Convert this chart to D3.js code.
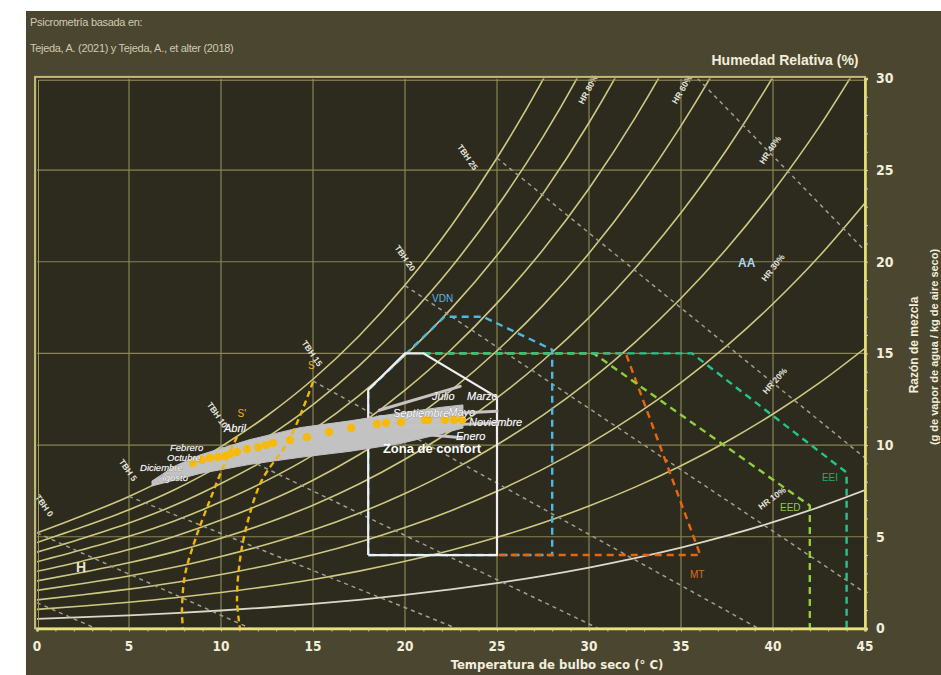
<!DOCTYPE html>
<html><head><meta charset="utf-8">
<script src="https://cdn.jsdelivr.net/npm/d3@7"></script>
<style>
html,body{margin:0;padding:0;background:#fff;}
svg{display:block;}
</style></head>
<body><svg id="c" width="941" height="675"></svg>
<script>
// ---------------- DATA ----------------
const P_KPA = 80; // site pressure (kPa)
const satT = [0,2.5,5,7.5,10,12.5,15,17.5,20,22.5,25,27.5,30,32.5,35,37.5,40,42.5,45];
// saturation mixing ratio (g/kg)
const satW = [5.21,6.16,7.20,8.43,9.91,11.60,13.59,15.95,18.73,21.94,25.66,29.93,34.86,40.54,47.07,54.57,63.22,73.18,84.72];
const rhLevels = [10,20,30,40,50,60,70,80,90,100];
const xTicks = [0,5,10,15,20,25,30,35,40,45];
const yTicks = [0,5,10,15,20,25,30];

// wet-bulb (TBH) dashed lines: start / end points (T, w)
const tbhStart = [[0,1.4],[0,5.21],[5,7.2],[10,9.91],[15,13.5],[20,18.7],[25,25.66],[35.9,30]];
const tbhEnd   = [[3.2,0],[11.6,0],[22.8,0],[30.5,0],[39.2,0],[45,1.95],[45,9.3],[45,20.6]];
const tbhLabels = ["TBH 0","TBH 5","TBH 10","TBH 15","TBH 20","TBH 25"];
const tbhLabelPos = [[0.4,6.7],[4.95,8.64],[9.8,11.64],[14.95,15.0],[20.0,20.2],[23.4,25.7]];

const hrLabels = ["HR 80%","HR 60%","HR 40%","HR 30%","HR 20%","HR 10%"];
const hrLabelPos = [[29.95,29.4],[35.05,29.4],[39.84,26.1],[40.0,19.67],[40.1,13.5],[39.95,7.1]];
const hrLabelRot = [-62,-60,-56,-52,-48,-36];

// bioclimatic zones
const comfortZone = [[18,4],[18,13],[20,15],[21,15],[25,12.6],[25,4],[18,4]];
const vdnZone = [[18,4],[18,13],[22.15,17.0],[24.25,17.0],[28,15.2],[28,4],[18,4]];
const mtZone = [[21,15],[32,15],[36.05,4],[25,4]];
const eedZone = [[21,15],[30.25,15],[42.0,6.7],[42.0,0]];
const eeiZone = [[21,15],[35.6,15],[44.0,8.5],[44.0,0]];

// monthly band (grey) – upper / lower edges
const bandUpper = [[6.25,8.04],[7.5,8.86],[8.86,9.46],[11.58,10.3],[14.29,10.95],[17.01,11.32],[19.73,11.75],[21.9,12.05],[23.15,12.19]];
const bandLower = [[6.25,7.77],[8.86,8.45],[11.58,8.95],[14.29,9.33],[17.01,9.66],[19.73,10.08],[21.9,10.6],[23.15,10.93]];
const bandLines = [
  [[18.6,11.9],[23.0,13.2]],
  [[18.6,11.55],[25.0,11.85]],
  [[19.5,11.0],[25.0,11.2]],
  [[20.8,10.6],[23.1,10.4]]
];
// monthly mean points (orange)
const dotT = [8.48,8.97,9.40,9.84,10.22,10.49,10.87,11.41,12.01,12.45,12.83,13.75,14.67,15.87,17.07,18.48,18.97,19.78,21.09,21.25,22.17,22.66,23.1];
const dotW = [9.02,9.19,9.30,9.35,9.40,9.51,9.62,9.79,9.89,10.0,10.11,10.28,10.44,10.71,10.93,11.15,11.2,11.26,11.37,11.37,11.37,11.37,11.37];

const monthNames = ["Julio","Marzo","Septiembre","Mayo","Noviembre","Enero","Abril","Febrero","Octubre","Diciembre","Agosto"];
const monthPos = [[21.47,12.46],[23.37,12.46],[19.35,11.53],[22.35,11.6],[23.48,11.04],[22.77,10.3],[10.16,10.7],[7.23,9.7],[7.07,9.12],[5.6,8.6],[6.6,8.05]];

// S and S' curves
const sCurve  = [[15.0,13.44],[13.7,10.28],[12.23,8.1],[11.47,5.9],[11.03,3.73],[10.87,1.55],[11.03,0]];
const s2Curve = [[10.87,10.44],[10.05,8.64],[9.40,7.0],[8.59,4.82],[8.04,2.91],[7.88,1.0],[7.93,0]];

// ---------------- DRAW ----------------
const W = 941, H = 675;
const svg = d3.select('#c');
const x = d3.scaleLinear().domain([0,45]).range([37,865]);
const y = d3.scaleLinear().domain([0,30]).range([628.4,78.4]);
const cond = "'Liberation Sans Narrow','DejaVu Sans Condensed','Liberation Sans',sans-serif";
const sans = "'Liberation Sans','DejaVu Sans',sans-serif";

svg.append('rect').attr('x',0).attr('y',0).attr('width',W).attr('height',H).attr('fill','#ffffff');
svg.append('rect').attr('x',26).attr('y',11).attr('width',W-26).attr('height',H-11).attr('fill','#4b4630');
svg.append('rect').attr('x',x(0)).attr('y',y(30)).attr('width',x(45)-x(0)).attr('height',y(0)-y(30)).attr('fill','#2d2a1e');

svg.append('defs').append('clipPath').attr('id','pc').append('rect')
  .attr('x',x(0)).attr('y',y(30)).attr('width',x(45)-x(0)).attr('height',y(0)-y(30));

const g = svg.append('g').attr('clip-path','url(#pc)');
const lin = d3.line().x(d=>x(d[0])).y(d=>y(d[1]));
const smooth = d3.line().x(d=>x(d[0])).y(d=>y(d[1])).curve(d3.curveMonotoneX);
const smoothY = d3.line().x(d=>x(d[0])).y(d=>y(d[1])).curve(d3.curveCatmullRom);

// grid
g.selectAll('.vg').data(xTicks.slice(1,-1)).join('line')
  .attr('x1',d=>x(d)).attr('x2',d=>x(d)).attr('y1',y(0)).attr('y2',y(30))
  .attr('stroke','#8a8353').attr('stroke-width',1.2);
g.selectAll('.hg').data(yTicks.slice(1,-1)).join('line')
  .attr('y1',d=>y(d)).attr('y2',d=>y(d)).attr('x1',x(0)).attr('x2',x(45))
  .attr('stroke','#8a8353').attr('stroke-width',1.2);

// RH curves
rhLevels.forEach(rh => {
  const pts = satT.map((t,i) => {
    const e = P_KPA*satW[i]/(622+satW[i]);
    const ev = e*rh/100;
    return [t, 622*ev/(P_KPA-ev)];
  });
  g.append('path').attr('d',smooth(pts)).attr('fill','none')
    .attr('stroke', rh===10 ? '#dcd9c8' : '#cdc982').attr('stroke-width', rh===10 ? 1.8 : 1.6);
});

// TBH dashed
tbhStart.forEach((s,i) => {
  g.append('path').attr('d',lin([s,tbhEnd[i]])).attr('fill','none')
    .attr('stroke','#9f9f8e').attr('stroke-width',1.5).attr('stroke-dasharray','4,4');
});

// zones
const zone = (pts,color,w) => g.append('path').attr('d',lin(pts)).attr('fill','none')
  .attr('stroke',color).attr('stroke-width',w||2.4).attr('stroke-dasharray','7,5');
zone(vdnZone,'#4fb8e0');
zone(mtZone,'#e8660f');
zone(eedZone,'#8fd03a');
zone(eeiZone,'#22c68c');
g.append('path').attr('d',lin(comfortZone)).attr('fill','none').attr('stroke','#f0f0f0').attr('stroke-width',2.2);

// band
g.append('path').attr('d',lin(bandUpper.concat(bandLower.slice().reverse()))+'Z')
  .attr('fill','#c2c2c2').attr('stroke','#c2c2c2').attr('stroke-width',1);
bandLines.forEach(l => g.append('path').attr('d',lin(l)).attr('fill','none')
  .attr('stroke','#c4c4c4').attr('stroke-width',3).attr('stroke-linecap','round'));

// S curves
[sCurve,s2Curve].forEach(c => g.append('path').attr('d',smoothY(c)).attr('fill','none')
  .attr('stroke','#f2b705').attr('stroke-width',2.4).attr('stroke-dasharray','6,4'));

// dots
g.selectAll('.dot').data(dotT.map((t,i)=>[t,dotW[i]])).join('circle')
  .attr('cx',d=>x(d[0])).attr('cy',d=>y(d[1])).attr('r',4.2).attr('fill','#f6bb0a');

// labels: TBH
tbhLabels.forEach((t,i) => {
  const p = tbhLabelPos[i];
  svg.append('text').attr('transform',`translate(${x(p[0])},${y(p[1])}) rotate(55)`)
    .attr('text-anchor','middle').attr('dy','0.35em')
    .attr('font-family',sans).attr('font-size',8.5).attr('font-weight','bold').attr('fill','#e4e4dc').text(t);
});
hrLabels.forEach((t,i) => {
  const p = hrLabelPos[i];
  svg.append('text').attr('transform',`translate(${x(p[0])},${y(p[1])}) rotate(${hrLabelRot[i]})`)
    .attr('text-anchor','middle').attr('dy','0.35em')
    .attr('font-family',sans).attr('font-size',8.5).attr('font-weight','bold').attr('fill','#e4e4dc').text(t);
});

// month labels
monthNames.forEach((m,i) => {
  const p = monthPos[i];
  svg.append('text').attr('x',x(p[0])).attr('y',y(p[1]))
    .attr('font-family',sans).attr('font-size', i>=7 ? 9.5 : 11).attr('font-style','italic')
    .attr('fill','#ffffff').attr('stroke','#6a6a6a').attr('stroke-width',0.5)
    .attr('paint-order','stroke').text(m);
});
svg.append('text').attr('x',x(18.8)).attr('y',y(9.55)).attr('font-family',sans)
  .attr('font-size',13).attr('font-weight','bold').attr('fill','#ffffff').text('Zona de confort');

const lab = (txt,p,color,size,bold) => svg.append('text').attr('x',x(p[0])).attr('y',y(p[1]))
  .attr('font-family',sans).attr('font-size',size).attr('font-weight',bold?'bold':'normal').attr('fill',color).text(txt);
lab('VDN',[21.47,17.8],'#5cb8e6',10);
lab('MT',[35.49,2.75],'#e06a1a',10);
lab('EED',[40.38,6.4],'#8fcf3c',10);
lab('EEI',[42.66,8.04],'#1fae66',10);
lab('AA',[38.1,19.7],'#a8d8f0',12,true);
lab('H',[2.12,3.08],'#e8e4d0',14,true);
lab('S',[14.73,14.15],'#f2b705',10);
lab("S'",[10.9,11.55],'#f2b705',10);

// frame
svg.append('rect').attr('x',x(0)-2).attr('y',y(30)-1.5).attr('width',x(45)-x(0)+2).attr('height',y(0)-y(30)+1.5)
  .attr('fill','none').attr('stroke','#c2b878').attr('stroke-width',2);
svg.append('line').attr('x1',x(0)+1.5).attr('x2',x(0)+1.5).attr('y1',y(30)+1.5).attr('y2',y(0))
  .attr('stroke','#a19760').attr('stroke-width',1);
svg.append('line').attr('x1',x(0)+1.5).attr('x2',x(45)).attr('y1',y(30)+1.8).attr('y2',y(30)+1.8)
  .attr('stroke','#a19760').attr('stroke-width',1);

// axes
const yAxis = d3.axisRight(y).tickValues(d3.range(0,31,1)).tickSize(3).tickFormat('');
const ya = svg.append('g').attr('transform',`translate(${x(45)},0)`).call(yAxis);
ya.select('.domain').attr('stroke','#e9e27c').attr('stroke-width',2.5);
ya.selectAll('.tick line').attr('stroke','#d8d2a8').attr('stroke-width',1);
const xAxis = d3.axisBottom(x).tickValues(d3.range(0,46,1)).tickSize(3).tickFormat('');
const xa = svg.append('g').attr('transform',`translate(0,${y(0)})`).call(xAxis);
xa.select('.domain').attr('stroke','#e9e27c').attr('stroke-width',2.5);
xa.selectAll('.tick line').attr('stroke','#d8d2a8').attr('stroke-width',1);

svg.selectAll('.yl').data(yTicks).join('text').attr('x',876).attr('y',d=>y(d)).attr('dy','0.35em')
  .attr('font-family',cond).attr('font-weight','bold').attr('font-size',14).attr('fill','#f2eedc').text(d=>d);
svg.selectAll('.xl').data(xTicks).join('text').attr('x',d=>x(d)).attr('y',651).attr('text-anchor','middle')
  .attr('font-family',cond).attr('font-weight','bold').attr('font-size',13.5).attr('fill','#f2eedc').text(d=>d);

// titles
svg.append('text').attr('x',557).attr('y',669).attr('text-anchor','middle').attr('font-family',cond)
  .attr('font-weight','bold').attr('font-size',13).attr('fill','#f2eedc').text('Temperatura de bulbo seco (° C)');
svg.append('text').attr('transform','translate(918,345) rotate(-90)').attr('text-anchor','middle')
  .attr('font-family',sans).attr('font-weight','bold').attr('font-size',12).attr('fill','#f2eedc').text('Razón de mezcla');
svg.append('text').attr('transform','translate(938,347) rotate(-90)').attr('text-anchor','middle')
  .attr('font-family',sans).attr('font-weight','bold').attr('font-size',11).attr('fill','#f2eedc').text('(g de vapor de  agua / kg de  aire seco)');
svg.append('text').attr('x',785).attr('y',65).attr('text-anchor','middle').attr('font-family',sans)
  .attr('font-weight','bold').attr('font-size',14).attr('fill','#f2eedc').text('Humedad Relativa (%)');
svg.append('text').attr('x',30).attr('y',26).attr('font-family',sans).attr('font-size',11)
  .attr('letter-spacing',-0.3).attr('fill','#cfcab0').text('Psicrometría basada en:');
svg.append('text').attr('x',30).attr('y',52).attr('font-family',sans).attr('font-size',11)
  .attr('letter-spacing',-0.3).attr('fill','#cfcab0').text('Tejeda, A. (2021) y Tejeda, A., et alter (2018)');
</script>
</body></html>
